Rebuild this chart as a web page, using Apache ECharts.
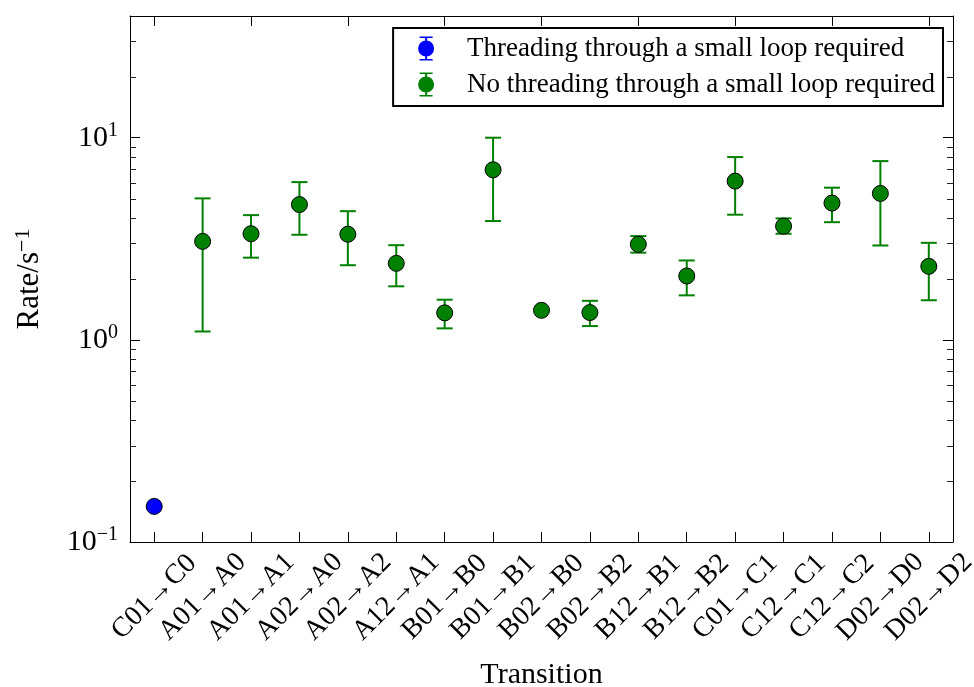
<!DOCTYPE html>
<html>
<head>
<meta charset="utf-8">
<script src="https://cdn.jsdelivr.net/npm/echarts@6/dist/echarts.min.js"></script>
<style>
  html, body { margin: 0; padding: 0; background: #fff; }
  #chart { width: 974px; height: 687px; }
</style>
</head>
<body>
<div id="chart"></div>
<script>
// Transition rates with error intervals (log scale)
const categories = ['C01→C0', 'A01→A0', 'A01→A1', 'A02→A0', 'A02→A2', 'A12→A1', 'B01→B0', 'B01→B1',
  'B02→B0', 'B02→B2', 'B12→B1', 'B12→B2', 'C01→C1', 'C12→C1', 'C12→C2', 'D02→D0', 'D02→D2'];
const rates   = [0.150, 3.07, 3.35, 4.67, 3.33, 2.39, 1.36, 6.94, 1.40, 1.365, 2.97, 2.07, 6.10, 3.65, 4.75, 5.30, 2.31];
const errLow  = [null, 1.10, 2.55, 3.31, 2.34, 1.84, 1.14, 3.87, null, 1.17, 2.70, 1.66, 4.16, 3.35, 3.82, 2.93, 1.57];
const errHigh = [null, 5.01, 4.14, 6.03, 4.33, 2.94, 1.58, 10.0, null, 1.56, 3.26, 2.47, 8.02, 3.99, 5.66, 7.66, 3.02];
const threading = [true, false, false, false, false, false, false, false, false, false, false, false, false, false, false, false, false];
const minorTickValues = [0.2, 0.3, 0.4, 0.5, 0.6, 0.7, 0.8, 0.9, 2, 3, 4, 5, 6, 7, 8, 9, 20, 30];

const NAME_THREAD = 'Threading through a small loop required';
const NAME_FREE = 'No threading through a small loop required';
const BLUE = '#0000ff';
const GREEN = '#008000';
const FONT = "'Liberation Serif', 'DejaVu Serif', serif";

const threadPts = [], freePts = [], errData = [];
categories.forEach((c, i) => {
  (threading[i] ? threadPts : freePts).push([i, rates[i]]);
  if (errLow[i] != null) errData.push([i, errLow[i], errHigh[i]]);
});

// legend glyph: marker with error bar
const legendIcon = 'path://M1.5,0H14.5V1.5H1.5Z M7,0H9V24H7Z M1.5,22.5H14.5V24H1.5Z M16,12A8,8 0 1,1 0,12A8,8 0 1,1 16,12Z';

function tickLabel(v) {
  const e = Math.log10(v);
  const r = Math.round(e);
  if (Math.abs(e - r) > 1e-6) return '';
  return '{b|10}{s|' + (r < 0 ? '−' + (-r) : r) + '}';
}

const axisLineStyle = { color: '#000', width: 1 };

const option = {
  animation: false,
  backgroundColor: '#fff',
  grid: { left: 130, right: 21, top: 16, bottom: 145, containLabel: false, outerBoundsMode: 'none' },
  legend: {
    data: [NAME_THREAD, NAME_FREE],
    orient: 'vertical',
    top: 28,
    right: 31,
    padding: [7, 8, 8, 25],
    itemWidth: 16,
    itemHeight: 24,
    itemGap: 9,
    icon: legendIcon,
    itemStyle: { borderWidth: 0 },
    backgroundColor: '#fff',
    borderColor: '#000',
    borderWidth: 2,
    formatter: name => '{t|' + name + '}',
    textStyle: {
      color: '#000',
      fontFamily: FONT,
      fontSize: 27,
      rich: { t: { fontFamily: FONT, fontSize: 27, color: '#000', lineHeight: 24, padding: [0, 0, 0, 28] } }
    }
  },
  xAxis: [
    {
      type: 'category',
      data: categories,
      position: 'bottom',
      boundaryGap: true,
      axisLine: { show: true, lineStyle: axisLineStyle },
      axisTick: { show: true, inside: true, length: 10, alignWithLabel: true, lineStyle: axisLineStyle },
      axisLabel: {
        interval: 0, rotate: 45, align: 'center', verticalAlign: 'middle', margin: 55,
        color: '#000', fontFamily: FONT, fontSize: 28
      },
      splitLine: { show: false },
      name: 'Transition',
      nameLocation: 'middle',
      nameGap: 118,
      nameTextStyle: { color: '#000', fontFamily: FONT, fontSize: 30 }
    },
    {
      type: 'category',
      data: categories,
      position: 'top',
      boundaryGap: true,
      axisLine: { show: true, lineStyle: axisLineStyle },
      axisTick: { show: true, inside: true, length: 10, alignWithLabel: true, lineStyle: axisLineStyle },
      axisLabel: { show: false },
      splitLine: { show: false }
    }
  ],
  yAxis: [
    {
      type: 'log',
      logBase: 10,
      min: 0.1,
      max: 40,
      position: 'left',
      axisLine: { show: true, lineStyle: axisLineStyle },
      axisTick: { show: true, inside: true, length: 10, lineStyle: axisLineStyle },
      axisLabel: {
        formatter: tickLabel,
        margin: 12,
        color: '#000',
        rich: {
          b: { fontFamily: FONT, fontSize: 30, color: '#000', lineHeight: 34 },
          s: { fontFamily: FONT, fontSize: 20, color: '#000', verticalAlign: 'top', lineHeight: 20 }
        }
      },
      splitLine: { show: false },
      name: '{a|Rate/s}{s|−1}',
      nameLocation: 'middle',
      nameGap: 82,
      nameTextStyle: {
        color: '#000',
        rich: {
          a: { fontFamily: FONT, fontSize: 31, color: '#000', lineHeight: 36 },
          s: { fontFamily: FONT, fontSize: 22, color: '#000', verticalAlign: 'top', lineHeight: 22 }
        }
      }
    },
    {
      type: 'log',
      logBase: 10,
      min: 0.1,
      max: 40,
      position: 'right',
      axisLine: { show: true, lineStyle: axisLineStyle },
      axisTick: { show: true, inside: true, length: 10, lineStyle: axisLineStyle },
      axisLabel: { show: false },
      splitLine: { show: false }
    }
  ],
  series: [
    {
      // minor ticks of the log axes, on both vertical frame edges
      type: 'custom',
      name: 'minorTicks',
      silent: true,
      z: 1,
      data: [[0]],
      renderItem: (params, api) => {
        const cs = params.coordSys;
        const children = [];
        minorTickValues.forEach(v => {
          const y = Math.round(api.coord([0, v])[1]) + 0.5;
          children.push({ type: 'line', shape: { x1: cs.x, y1: y, x2: cs.x + 6, y2: y }, style: { stroke: '#222', lineWidth: 1 } });
          children.push({ type: 'line', shape: { x1: cs.x + cs.width - 6, y1: y, x2: cs.x + cs.width, y2: y }, style: { stroke: '#222', lineWidth: 1 } });
        });
        return { type: 'group', children };
      }
    },
    {
      type: 'custom',
      name: 'errorBars',
      silent: true,
      z: 2,
      data: errData,
      encode: { x: 0, y: [1, 2] },
      renderItem: (params, api) => {
        const i = api.value(0);
        const top = api.coord([i, api.value(2)]);
        const bot = api.coord([i, api.value(1)]);
        const color = threading[i] ? BLUE : GREEN;
        const half = 8;
        const style = { stroke: color, lineWidth: 2 };
        return {
          type: 'group',
          children: [
            { type: 'line', shape: { x1: top[0], y1: top[1], x2: bot[0], y2: bot[1] }, style },
            { type: 'line', shape: { x1: top[0] - half, y1: top[1], x2: top[0] + half, y2: top[1] }, style },
            { type: 'line', shape: { x1: bot[0] - half, y1: bot[1], x2: bot[0] + half, y2: bot[1] }, style }
          ]
        };
      }
    },
    {
      type: 'scatter',
      name: NAME_THREAD,
      z: 3,
      data: threadPts,
      symbol: 'circle',
      symbolSize: 16,
      itemStyle: { color: BLUE, borderColor: '#000', borderWidth: 1, opacity: 1 }
    },
    {
      type: 'scatter',
      name: NAME_FREE,
      z: 3,
      data: freePts,
      symbol: 'circle',
      symbolSize: 16,
      itemStyle: { color: GREEN, borderColor: '#000', borderWidth: 1, opacity: 1 }
    }
  ]
};

const chart = echarts.init(document.getElementById('chart'), null, { renderer: 'canvas' });
chart.setOption(option);
</script>
</body>
</html>
